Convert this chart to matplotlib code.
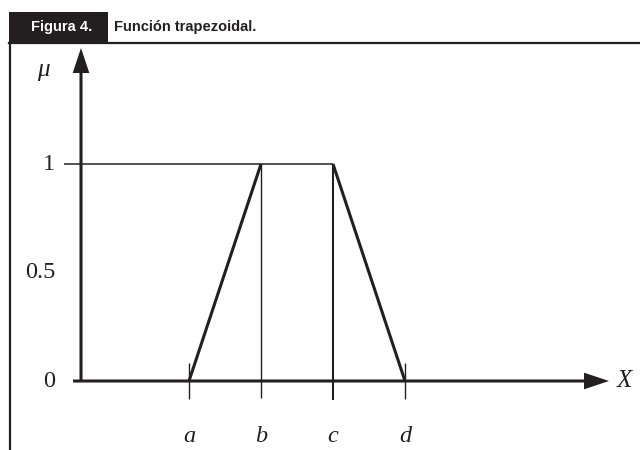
import matplotlib
matplotlib.use("Agg")
import matplotlib.pyplot as plt
from matplotlib.patches import Rectangle
from matplotlib.lines import Line2D

# Data
point_labels = ['a', 'b', 'c', 'd']
point_x = [1.5, 2.5, 3.5, 4.5]
mu_values = [0, 1, 1, 0]
ytick_values = [0, 0.5, 1]
ytick_labels = ['0', '0.5', '1']
title_tag = 'Figura 4.'
title_text = 'Función trapezoidal.'

INK = '#231f20'
W, H = 640, 450
fig = plt.figure(figsize=(W / 100, H / 100), dpi=100)
ax = fig.add_axes([0, 0, 1, 1])
# pixel geometry: origin at (81, 381) px, 72 px per x unit, 217 px per mu unit
ax.set_xlim(-81 / 72, (W - 81) / 72)
ax.set_ylim((381 - H) / 217, 381 / 217)
ax.axis('off')

serif = 'Liberation Serif'

# axes arrows
ax.annotate('', xy=(0, (381 - 48) / 217), xytext=(0, 0),
            arrowprops=dict(width=2.2, headwidth=12, headlength=18, shrink=0,
                            facecolor=INK, edgecolor=INK, lw=0))
ax.annotate('', xy=((609 - 81) / 72, 0), xytext=((73 - 81) / 72, 0),
            arrowprops=dict(width=2.2, headwidth=12, headlength=18, shrink=0,
                            facecolor=INK, edgecolor=INK, lw=0))

# horizontal line at mu = 1 (thin, up to c)
ax.plot([(64 - 81) / 72, point_x[2]], [mu_values[1], mu_values[2]], color=INK, lw=1.1,
        solid_capstyle='butt')
# vertical lines at b and c
ax.plot([point_x[1], point_x[1]], [mu_values[1], -17 / 217], color=INK, lw=1.0,
        solid_capstyle='butt')
ax.plot([point_x[2], point_x[2]], [mu_values[2], -19 / 217], color=INK, lw=1.5,
        solid_capstyle='butt')
# tick marks at a and d
for xi in (point_x[0], point_x[3]):
    ax.plot([xi, xi], [18 / 217, -18 / 217], color=INK, lw=1.0, solid_capstyle='butt')

# trapezoid slopes (thick)
ax.plot(point_x[0:2], mu_values[0:2], color=INK, lw=2.2, solid_capstyle='butt')
ax.plot(point_x[2:4], mu_values[2:4], color=INK, lw=2.2, solid_capstyle='butt')

# tick labels
for v, lab in zip(ytick_values, ytick_labels):
    ax.text((55 - 81) / 72, v + 0.01, lab, ha='right', va='center_baseline',
            fontsize=17.5, family=serif, color=INK)

for xi, lab in zip(point_x, point_labels):
    ax.text(xi, (381 - 437) / 217, lab, ha='center', va='center', fontsize=17.5,
            family=serif, style='italic', color=INK)

ax.text((617 - 81) / 72, 0, 'X', ha='left', va='center', fontsize=18,
        family=serif, style='italic', color=INK)
ax.text((43 - 81) / 72, (381 - 70) / 217, 'μ', ha='center', va='center', fontsize=18,
        family=serif, style='italic', color=INK)

# header / frame (figure pixel coordinates)
def fx(px):
    return px / W

def fy(py):
    return 1 - py / H

fig.patches.append(Rectangle((fx(9), fy(43)), fx(108) - fx(9), fy(12) - fy(43),
                             transform=fig.transFigure, facecolor=INK, edgecolor='none'))
fig.lines.append(Line2D([fx(9), fx(640)], [fy(43), fy(43)], transform=fig.transFigure,
                        color=INK, lw=1.6))
fig.lines.append(Line2D([fx(10), fx(10)], [fy(43), fy(450)], transform=fig.transFigure,
                        color=INK, lw=1.6))
fig.text(fx(62), fy(27), title_tag, ha='center', va='center', color='white',
         fontsize=10.5, fontweight='bold', family='Liberation Sans')
fig.text(fx(114), fy(27), title_text, ha='left', va='center', color=INK,
         fontsize=10.5, fontweight='bold', family='Liberation Sans')

fig.savefig('out.png', dpi=100)
